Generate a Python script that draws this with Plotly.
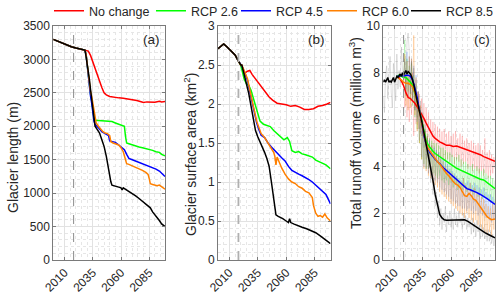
import plotly.graph_objects as go

# ---------------- data ----------------
scenarios = ["No change", "RCP 2.6", "RCP 4.5", "RCP 6.0", "RCP 8.5"]
colors = ["#ff0000", "#00ff00", "#0000ff", "#ff8000", "#000000"]
faint_colors = ["rgba(255,0,0,0.16)", "rgba(0,220,0,0.2)", "rgba(0,90,255,0.18)",
                "rgba(255,128,0,0.25)", "rgba(90,90,90,0.18)"]
present_year = 2018
xticks = [2010, 2035, 2060, 2085]

# (a) glacier length (m)
len_hist_years = [2000, 2004, 2008, 2012, 2016, 2020, 2024, 2028]
len_hist = [3300, 3270, 3240, 3212, 3190, 3170, 3155, 3140]
len_years = {
    "No change": [2029, 2031, 2033, 2035, 2037, 2039, 2041, 2043, 2045, 2047, 2050, 2054, 2058, 2062, 2066, 2070, 2074, 2077, 2080, 2083, 2086, 2090, 2094, 2096, 2099],
    "RCP 2.6": [2029, 2030, 2031, 2032, 2033, 2034, 2035, 2036, 2037, 2040, 2043, 2046, 2049, 2052, 2055, 2058, 2061, 2063, 2064, 2065, 2067, 2070, 2073, 2076, 2079, 2082, 2085, 2088, 2091, 2094, 2096, 2099],
    "RCP 4.5": [2029, 2030, 2031, 2032, 2033, 2034, 2035, 2036, 2037, 2039, 2041, 2043, 2045, 2047, 2049, 2050, 2052, 2055, 2058, 2061, 2063, 2065, 2067, 2070, 2073, 2076, 2079, 2082, 2085, 2088, 2091, 2094, 2097, 2099],
    "RCP 6.0": [2029, 2030, 2031, 2032, 2033, 2034, 2035, 2036, 2037, 2038, 2040, 2042, 2044, 2046, 2048, 2050, 2051, 2053, 2055, 2058, 2060, 2062, 2063, 2064, 2065, 2067, 2070, 2073, 2076, 2079, 2082, 2084, 2085, 2086, 2088, 2090, 2092, 2094, 2096, 2098, 2099],
    "RCP 8.5": [2029, 2030, 2031, 2032, 2033, 2034, 2035, 2036, 2037, 2039, 2041, 2043, 2045, 2047, 2049, 2050, 2051, 2052, 2055, 2058, 2060, 2061, 2062, 2064, 2067, 2070, 2073, 2076, 2079, 2082, 2084, 2086, 2088, 2090, 2092, 2094, 2096, 2098, 2099],
}
len_vals = {
    "No change": [3138, 3125, 3060, 2960, 2880, 2780, 2680, 2580, 2500, 2470, 2445, 2430, 2425, 2420, 2410, 2400, 2385, 2370, 2355, 2365, 2365, 2360, 2375, 2365, 2370],
    "RCP 2.6": [3080, 2920, 2750, 2580, 2480, 2380, 2250, 2120, 2090, 2085, 2085, 2080, 2080, 2070, 2050, 2030, 2020, 2000, 1850, 1750, 1740, 1720, 1700, 1690, 1680, 1670, 1660, 1640, 1620, 1610, 1580, 1560],
    "RCP 4.5": [3080, 2900, 2700, 2550, 2450, 2350, 2200, 2080, 2030, 2000, 1960, 1920, 1900, 1880, 1860, 1780, 1770, 1760, 1720, 1680, 1650, 1580, 1520, 1500, 1480, 1460, 1440, 1430, 1410, 1380, 1360, 1330, 1290, 1250],
    "RCP 6.0": [3080, 2950, 2780, 2620, 2520, 2450, 2350, 2250, 2150, 2050, 2000, 1960, 1920, 1900, 1890, 1860, 1770, 1750, 1740, 1720, 1680, 1620, 1560, 1500, 1440, 1430, 1410, 1380, 1360, 1340, 1310, 1280, 1220, 1140, 1130, 1120, 1110, 1120, 1100, 1080, 1060],
    "RCP 8.5": [3050, 2950, 2850, 2700, 2550, 2400, 2250, 2100, 2000, 1950, 1900, 1800, 1700, 1550, 1350, 1250, 1170, 1120, 1110, 1090, 1080, 1050, 1080, 1060, 1030, 1000, 960, 920, 880, 840, 820, 780, 720, 680, 640, 590, 540, 510, 500],
}

# (b) glacier surface area (km2)
area_hist_years = [2000, 2003, 2005, 2008, 2012, 2015, 2018, 2020]
area_hist = [2.71, 2.74, 2.77, 2.73, 2.68, 2.63, 2.55, 2.50]
area_years = {
    "No change": [2022, 2024, 2026, 2028, 2030, 2033, 2036, 2039, 2042, 2045, 2048, 2052, 2056, 2060, 2064, 2068, 2072, 2076, 2080, 2084, 2088, 2092, 2096, 2099],
    "RCP 2.6": [2021, 2023, 2025, 2027, 2029, 2031, 2033, 2035, 2037, 2040, 2043, 2046, 2049, 2052, 2055, 2058, 2061, 2063, 2065, 2068, 2071, 2074, 2077, 2080, 2083, 2086, 2089, 2092, 2095, 2099],
    "RCP 4.5": [2021, 2024, 2026, 2028, 2030, 2032, 2034, 2036, 2038, 2041, 2044, 2047, 2050, 2053, 2056, 2059, 2062, 2065, 2068, 2071, 2074, 2077, 2080, 2083, 2086, 2089, 2092, 2095, 2097, 2099],
    "RCP 6.0": [2021, 2024, 2026, 2028, 2030, 2032, 2034, 2036, 2038, 2041, 2044, 2047, 2049, 2050, 2051, 2052, 2054, 2056, 2059, 2062, 2065, 2068, 2071, 2074, 2077, 2080, 2083, 2084, 2086, 2088, 2090, 2092, 2094, 2096, 2099],
    "RCP 8.5": [2021, 2023, 2025, 2027, 2029, 2031, 2033, 2035, 2037, 2039, 2041, 2043, 2045, 2047, 2049, 2050, 2051, 2053, 2055, 2057, 2060, 2062, 2063, 2064, 2067, 2070, 2074, 2078, 2082, 2086, 2090, 2094, 2097, 2099],
}
area_vals = {
    "No change": [2.43, 2.40, 2.42, 2.43, 2.38, 2.32, 2.26, 2.20, 2.14, 2.09, 2.05, 2.01, 2.00, 1.99, 1.97, 1.98, 1.96, 1.93, 1.93, 1.94, 1.97, 1.98, 2.00, 2.02],
    "RCP 2.6": [2.44, 2.32, 2.26, 2.24, 2.18, 2.08, 1.98, 1.88, 1.78, 1.74, 1.72, 1.71, 1.66, 1.62, 1.58, 1.54, 1.57, 1.52, 1.40, 1.38, 1.39, 1.36, 1.35, 1.33, 1.32, 1.28, 1.26, 1.25, 1.22, 1.17],
    "RCP 4.5": [2.49, 2.38, 2.30, 2.16, 2.02, 1.88, 1.76, 1.67, 1.60, 1.57, 1.50, 1.45, 1.40, 1.35, 1.31, 1.27, 1.20, 1.15, 1.12, 1.10, 1.08, 1.06, 1.03, 1.00, 0.96, 0.92, 0.88, 0.84, 0.78, 0.72],
    "RCP 6.0": [2.50, 2.40, 2.32, 2.18, 2.04, 1.90, 1.78, 1.70, 1.62, 1.57, 1.50, 1.42, 1.38, 1.33, 1.22, 1.32, 1.25, 1.18, 1.10, 1.04, 1.00, 0.98, 0.94, 0.92, 0.88, 0.86, 0.80, 0.70, 0.60, 0.56, 0.57, 0.55, 0.59, 0.54, 0.50],
    "RCP 8.5": [2.50, 2.38, 2.28, 2.14, 1.98, 1.82, 1.66, 1.58, 1.52, 1.46, 1.38, 1.30, 1.20, 1.00, 0.80, 0.65, 0.58, 0.56, 0.55, 0.53, 0.50, 0.48, 0.53, 0.48, 0.46, 0.44, 0.42, 0.40, 0.38, 0.35, 0.31, 0.27, 0.23, 0.21],
}

# (c) total runoff volume (million m3): smoothed lines
run_hist_years = list(range(2000, 2013))
run_hist = [7.6, 7.7, 7.6, 7.75, 7.8, 7.6, 7.65, 7.6, 7.7, 7.8, 7.6, 7.75, 7.85]
run_years = {
    "No change": [2014, 2016, 2018, 2020, 2022, 2024, 2026, 2028, 2030, 2032, 2034, 2036, 2038, 2040, 2042, 2044, 2046, 2048, 2050, 2053, 2056, 2059, 2062, 2065, 2068, 2071, 2074, 2077, 2080, 2083, 2086, 2089, 2092, 2095, 2099],
    "RCP 2.6": [2014, 2016, 2018, 2020, 2022, 2024, 2026, 2028, 2030, 2032, 2034, 2036, 2038, 2040, 2042, 2044, 2046, 2048, 2050, 2053, 2056, 2059, 2062, 2065, 2068, 2071, 2074, 2077, 2080, 2083, 2086, 2089, 2092, 2095, 2099],
    "RCP 4.5": [2014, 2016, 2018, 2020, 2022, 2024, 2026, 2028, 2030, 2032, 2034, 2036, 2038, 2040, 2042, 2044, 2046, 2048, 2050, 2053, 2056, 2059, 2062, 2065, 2068, 2071, 2074, 2077, 2080, 2083, 2086, 2089, 2092, 2095, 2099],
    "RCP 6.0": [2014, 2016, 2018, 2020, 2022, 2024, 2026, 2028, 2030, 2032, 2034, 2036, 2038, 2040, 2042, 2044, 2046, 2048, 2050, 2052, 2054, 2056, 2058, 2060, 2062, 2064, 2066, 2068, 2070, 2072, 2074, 2076, 2078, 2080, 2082, 2084, 2086, 2088, 2090, 2092, 2094, 2096, 2099],
    "RCP 8.5": [2013, 2014, 2015, 2016, 2017, 2018, 2019, 2020, 2021, 2022, 2023, 2024, 2025, 2026, 2027, 2028, 2029, 2030, 2032, 2034, 2036, 2038, 2040, 2042, 2044, 2046, 2048, 2050, 2052, 2054, 2056, 2060, 2064, 2068, 2072, 2075, 2078, 2082, 2086, 2090, 2094, 2099],
}
run_vals = {
    "No change": [7.8, 7.65, 7.45, 7.15, 6.95, 6.9, 6.8, 6.7, 6.55, 6.4, 6.25, 6.05, 5.85, 5.65, 5.45, 5.3, 5.2, 5.12, 5.05, 4.98, 4.9, 4.9, 4.85, 4.87, 4.82, 4.78, 4.72, 4.68, 4.62, 4.55, 4.5, 4.42, 4.35, 4.3, 4.22],
    "RCP 2.6": [7.9, 7.85, 7.8, 7.8, 7.7, 7.6, 7.45, 7.15, 6.8, 6.4, 5.95, 5.5, 5.1, 4.9, 4.75, 4.65, 4.55, 4.48, 4.42, 4.32, 4.2, 4.1, 4.02, 3.92, 3.85, 3.78, 3.72, 3.65, 3.58, 3.52, 3.45, 3.42, 3.3, 3.2, 3.05],
    "RCP 4.5": [7.85, 7.9, 7.85, 7.9, 7.9, 7.85, 7.7, 7.35, 6.95, 6.4, 5.85, 5.3, 4.95, 4.7, 4.55, 4.4, 4.3, 4.2, 4.12, 3.95, 3.82, 3.7, 3.55, 3.4, 3.28, 3.15, 3.05, 3.0, 2.95, 2.88, 2.8, 2.72, 2.62, 2.52, 2.38],
    "RCP 6.0": [7.75, 7.7, 7.6, 7.55, 7.55, 7.5, 7.4, 7.15, 6.8, 6.35, 5.85, 5.35, 4.95, 4.75, 4.6, 4.45, 4.3, 4.2, 4.1, 3.95, 3.8, 3.7, 3.6, 3.45, 3.35, 3.25, 3.2, 3.1, 2.9, 2.75, 2.72, 2.85, 2.75, 2.6, 2.55, 2.4, 2.25, 2.1, 1.95, 1.85, 1.78, 1.72, 1.75],
    "RCP 8.5": [7.8, 7.9, 7.95, 7.85, 8.0, 7.9, 8.05, 8.1, 7.95, 8.05, 8.0, 7.95, 7.85, 7.7, 7.5, 7.25, 7.0, 6.8, 6.35, 5.95, 5.45, 4.95, 4.5, 3.95, 3.4, 2.8, 2.3, 1.95, 1.8, 1.72, 1.7, 1.7, 1.72, 1.7, 1.72, 1.65, 1.55, 1.42, 1.3, 1.17, 1.07, 0.95],
}

# (c) annual runoff (faint lines)
annual_hist_years = list(range(2000, 2019))
annual_hist = [7.0, 6.3, 7.9, 8.3, 6.9, 7.6, 8.7, 7.2, 6.5, 8.4, 7.8, 6.8, 8.8, 7.3, 8.1, 7.4, 9.1, 8.2, 7.6]
annual_years = list(range(2018, 2100))
annual_vals = {
    "No change": [7.6, 6.5, 7.9, 6.1, 7.8, 5.9, 7.7, 6.2, 8.0, 5.3, 7.4, 5.8, 7.2, 5.6, 7.1, 5.4, 6.9, 5.3, 6.7, 5.1, 6.5, 4.9, 6.3, 4.8, 6.0, 4.7, 5.9, 4.5, 5.8, 4.4, 5.7, 4.3, 5.6, 4.4, 5.5, 4.3, 5.6, 4.2, 5.4, 4.3, 5.5, 4.2, 5.3, 4.4, 5.4, 4.1, 5.5, 4.3, 5.2, 4.2, 5.4, 4.0, 5.3, 4.1, 5.1, 4.2, 5.2, 3.9, 5.0, 4.0, 5.1, 3.8, 5.0, 3.9, 4.9, 3.8, 5.0, 3.7, 4.9, 3.8, 4.7, 3.6, 5.2, 3.7, 4.6, 3.5, 4.7, 3.6, 4.5, 3.7, 4.4, 3.9],
    "RCP 2.6": [7.7, 9.4, 7.0, 8.6, 7.2, 8.3, 6.8, 8.4, 6.6, 7.9, 6.1, 7.5, 5.6, 7.0, 5.0, 6.4, 4.3, 5.8, 4.1, 5.6, 3.9, 5.4, 3.9, 5.2, 3.8, 5.1, 3.7, 5.0, 3.6, 5.0, 3.5, 4.9, 3.6, 4.8, 3.4, 4.8, 3.3, 4.7, 3.4, 4.6, 3.2, 4.6, 3.3, 4.5, 3.1, 4.4, 3.2, 4.4, 3.0, 4.5, 3.1, 4.3, 3.0, 4.2, 3.1, 4.2, 2.9, 4.1, 3.0, 4.0, 2.9, 4.1, 2.8, 3.9, 2.9, 4.0, 2.7, 3.9, 2.8, 3.8, 2.6, 3.9, 2.7, 3.7, 2.6, 3.6, 2.5, 3.6, 2.5, 3.5, 2.4, 3.4],
    "RCP 4.5": [7.8, 8.5, 7.2, 8.9, 7.0, 8.7, 7.1, 8.6, 6.8, 8.3, 6.4, 7.9, 5.9, 7.2, 5.1, 6.5, 4.4, 5.9, 4.0, 5.5, 3.9, 5.3, 3.7, 5.1, 3.6, 4.9, 3.5, 4.8, 3.4, 4.7, 3.3, 4.6, 3.1, 4.4, 3.0, 4.3, 2.9, 4.2, 2.8, 4.1, 2.7, 3.9, 2.6, 3.8, 2.5, 3.7, 2.4, 3.6, 2.3, 3.5, 2.3, 3.4, 2.2, 3.5, 2.2, 3.3, 2.1, 3.4, 2.2, 3.3, 2.1, 3.2, 2.0, 3.3, 2.1, 3.2, 1.9, 3.1, 2.0, 3.0, 1.9, 3.1, 1.8, 2.9, 1.8, 2.8, 1.7, 2.8, 1.6, 2.7, 1.7, 2.6],
    "RCP 6.0": [7.5, 8.8, 6.6, 8.5, 6.4, 8.7, 6.5, 8.6, 6.9, 9.6, 6.2, 7.8, 5.5, 7.2, 5.0, 6.6, 4.3, 6.0, 3.9, 5.5, 3.8, 5.3, 3.6, 5.0, 3.5, 4.9, 3.3, 4.7, 3.2, 4.6, 3.1, 4.5, 2.9, 4.3, 2.8, 4.2, 2.7, 4.0, 2.6, 3.9, 2.5, 3.8, 2.4, 3.7, 2.3, 3.6, 2.2, 3.5, 2.1, 3.4, 2.0, 3.3, 1.9, 3.5, 1.8, 3.2, 2.0, 3.1, 1.8, 3.3, 1.7, 3.0, 1.6, 3.1, 1.7, 2.9, 1.5, 2.8, 1.4, 2.7, 1.3, 2.6, 1.2, 2.4, 1.1, 2.3, 1.2, 2.2, 1.0, 2.4, 1.3, 2.5],
    "RCP 8.5": [7.6, 8.6, 7.3, 9.3, 9.7, 8.9, 7.1, 8.5, 6.9, 8.2, 6.4, 7.7, 6.1, 7.2, 5.6, 6.8, 5.3, 6.3, 4.8, 5.8, 4.3, 5.2, 3.9, 4.7, 3.3, 4.0, 2.8, 3.5, 2.3, 2.9, 1.8, 2.5, 1.5, 2.2, 1.3, 2.0, 1.6, 2.3, 1.2, 1.9, 1.5, 2.1, 1.4, 1.8, 1.3, 2.2, 1.5, 1.9, 1.4, 2.1, 1.6, 1.8, 1.3, 2.0, 1.5, 1.9, 1.3, 1.8, 1.4, 1.7, 1.1, 1.8, 1.2, 1.6, 1.0, 1.7, 1.2, 1.5, 0.9, 1.5, 1.0, 1.4, 0.9, 1.3, 0.8, 1.3, 0.8, 1.2, 0.7, 1.1, 0.6, 1.0],
}

# ---------------- figure ----------------
FONT = "Liberation Sans, Arial, Helvetica, sans-serif"
fig = go.Figure()
legend_ids = ["legend", "legend2", "legend3", "legend4", "legend5"]
legend_x = [49, 151, 236, 322, 406]   # left edge (px) of each legend entry

fig.add_trace(go.Scatter(x=annual_hist_years, y=annual_hist, mode="lines",
                         line=dict(color=faint_colors[4], width=1), showlegend=False,
                         xaxis="x3", yaxis="y3", hoverinfo="skip"))
for name, fc in zip(scenarios, faint_colors):
    vals = annual_vals[name]
    fig.add_trace(go.Scatter(x=annual_years[:len(vals)], y=vals, mode="lines",
                             line=dict(color=fc, width=1), showlegend=False,
                             xaxis="x3", yaxis="y3", hoverinfo="skip"))

for name, col, lg in zip(scenarios, colors, legend_ids):
    fig.add_trace(go.Scatter(x=len_hist_years + len_years[name], y=len_hist + len_vals[name],
                             mode="lines", name=name, line=dict(color=col, width=1.5),
                             xaxis="x", yaxis="y", legend=lg, showlegend=True))
    fig.add_trace(go.Scatter(x=area_hist_years + area_years[name], y=area_hist + area_vals[name],
                             mode="lines", name=name, line=dict(color=col, width=1.5),
                             xaxis="x2", yaxis="y2", showlegend=False))
    if name == "RCP 8.5":
        rx, ry = run_hist_years + run_years[name], run_hist + run_vals[name]
    else:
        rx, ry = [2012] + run_years[name], [7.85] + run_vals[name]
    fig.add_trace(go.Scatter(x=rx, y=ry, mode="lines", name=name,
                             line=dict(color=col, width=1.5),
                             xaxis="x3", yaxis="y3", showlegend=False))

W, H = 500, 298
ytop, ybot = 1 - 26 / H, 1 - 260 / H
doms = [(53.3 / W, 165 / W), (218 / W, 330.5 / W), (383.3 / W, 495 / W)]
yranges = [(0, 3500, 500, 100), (0, 3, 0.5, 0.1), (0, 10, 2, 0.5)]
axcol = "#7a7a7a"
gridcol = "#e2e2e2"
mgridcol = "#e6e6e6"
layout = dict(
    width=W, height=H, margin=dict(l=0, r=0, t=0, b=0, autoexpand=False),
    paper_bgcolor="white", plot_bgcolor="white",
    font=dict(family=FONT, color="#262626", size=12),
    hovermode=False,
)
for lg, lx in zip(legend_ids, legend_x):
    layout[lg] = dict(orientation="h", x=lx / W, y=1.013, xanchor="left", yanchor="top",
                      font=dict(size=12.5), itemwidth=30, bgcolor="rgba(0,0,0,0)",
                      borderwidth=0)
for i, (d, yr) in enumerate(zip(doms, yranges)):
    sfx = "" if i == 0 else str(i + 1)
    layout["xaxis" + sfx] = dict(
        domain=list(d), range=[2000, 2099], anchor="y" + sfx,
        tickvals=xticks, tickangle=-45, ticks="inside", ticklen=3,
        tickcolor=axcol, showline=True, linecolor=axcol, linewidth=1, mirror="ticks",
        showgrid=True, gridcolor=gridcol, gridwidth=1, zeroline=False,
        tickfont=dict(size=12), automargin=False,
        minor=dict(dtick=5, tick0=2000, showgrid=True, gridcolor=mgridcol, griddash="dot", gridwidth=1),
    )
    layout["yaxis" + sfx] = dict(
        domain=[ybot, ytop], range=[yr[0], yr[1]], dtick=yr[2], anchor="x" + sfx,
        ticks="inside", ticklen=3, tickcolor=axcol, showline=True, linecolor=axcol,
        linewidth=1, mirror="ticks", showgrid=True, gridcolor=gridcol, zeroline=False,
        tickfont=dict(size=12), automargin=False,
        minor=dict(dtick=yr[3], showgrid=True, gridcolor=mgridcol, griddash="dot", gridwidth=1),
    )
fig.update_layout(**layout)

for i in range(3):
    sfx = "" if i == 0 else str(i + 1)
    fig.add_shape(type="line", xref="x" + sfx, yref="y" + sfx + " domain",
                  x0=present_year, x1=present_year, y0=0, y1=1,
                  line=dict(color="#8c8c8c" if i != 1 else "#b0b0b0",
                            width=1 if i != 1 else 1.8, dash="dash"))

for i, lab in enumerate(["(a)", "(b)", "(c)"]):
    sfx = "" if i == 0 else str(i + 1)
    fig.add_annotation(text=lab, xref="x" + sfx + " domain", yref="y" + sfx + " domain",
                       x=0.97, y=0.985, xanchor="right", yanchor="top", showarrow=False,
                       font=dict(size=13.5, color="#262626"))

ytitles = ["Glacier length (m)", "Glacier surface area (km<sup>2</sup>)",
           "Total runoff volume (million m<sup>3</sup>)"]
ytitle_x = [13, 190, 355]
ytitle_y = [158, 155, 133]
for t, xp, yp in zip(ytitles, ytitle_x, ytitle_y):
    fig.add_annotation(text=t, xref="paper", yref="paper", x=xp / W, y=1 - yp / H,
                       xanchor="center", yanchor="middle", textangle=-90, showarrow=False,
                       font=dict(size=14, color="#262626"))

fig.write_html("out.html", config={"displayModeBar": False, "staticPlot": True},
               post_script="document.body.style.margin='0';document.body.style.overflow='hidden';")
